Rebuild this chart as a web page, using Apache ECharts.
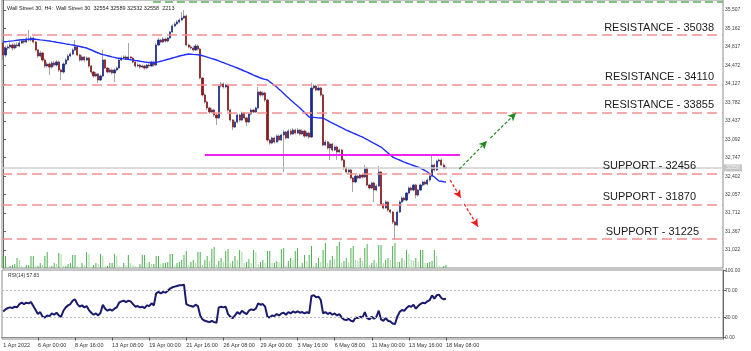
<!DOCTYPE html>
<html><head><meta charset="utf-8">
<script src="https://cdn.jsdelivr.net/npm/echarts@6/dist/echarts.min.js"></script>
<style>html,body{margin:0;padding:0;background:#fff}#c{width:751px;height:351px}</style>
</head><body><div id="c"></div>
<script>
const tickLabels = ['1 Apr 2022','6 Apr 00:00','8 Apr 16:00','13 Apr 08:00','19 Apr 00:00','21 Apr 16:00','26 Apr 08:00','29 Apr 00:00','3 May 16:00','6 May 08:00','11 May 00:00','13 May 16:00','18 May 08:00'];
const priceTicks = [31022,31367,31712,32057,32402,32747,33092,33437,33782,34127,34472,34817,35162,35507];
const rsiTicks = [0,30,70,100];

const opens = [
34890,34666,34797,34816,34853,34797,34853,34834,34890,34928,
34909,34965,34946,34984,34909,34760,34648,34704,34573,34461,
34498,34442,34517,34479,34536,34386,34349,34498,34573,34648,
34685,34760,34816,34666,34573,34629,34573,34610,34461,34349,
34274,34311,34199,34274,34573,34423,34349,34386,34330,34386,
34423,34573,34610,34629,34592,34629,34610,34536,34461,34479,
34442,34461,34423,34479,34461,34536,34479,34853,34946,34909,
34965,34928,34984,35096,35208,35246,35283,35320,35358,35395,
34853,34816,34797,34760,34834,34778,34236,33919,33788,33676,
33601,33638,33545,33489,34087,34124,34068,34105,33638,33451,
33320,33414,33545,33451,33582,33489,33414,33564,33638,33601,
33676,33975,33919,33956,33825,33078,33021,33115,33040,33152,
33078,33171,33227,33115,33246,33190,33264,33208,33264,33190,
33246,33152,33208,33134,34049,34087,34012,34049,33919,32984,
33040,32928,33003,32891,32947,32854,32891,32704,32554,32480,
32517,32368,32293,32405,32368,32424,32386,32554,32237,32181,
32274,32143,32218,32480,31881,31807,31919,31769,31732,31545,
31489,31732,31919,31994,31956,32087,32181,32143,32237,32050,
32143,32237,32293,32255,32330,32405,32610,32517,32685,32704,
32610,32554];
const closes = [
34666,34797,34816,34853,34797,34853,34834,34890,34928,34909,
34965,34946,34984,34909,34760,34648,34704,34573,34461,34498,
34442,34517,34479,34536,34386,34349,34498,34573,34648,34685,
34760,34816,34666,34573,34629,34573,34610,34461,34349,34274,
34311,34199,34274,34573,34423,34349,34386,34330,34386,34423,
34573,34610,34629,34592,34629,34610,34536,34461,34479,34442,
34461,34423,34479,34461,34536,34479,34853,34946,34909,34965,
34928,34984,35096,35208,35246,35283,35320,35358,35395,34853,
34816,34797,34760,34834,34778,34236,33919,33788,33676,33601,
33638,33545,33489,34087,34124,34068,34105,33638,33451,33320,
33414,33545,33451,33582,33489,33414,33564,33638,33601,33676,
33975,33919,33956,33825,33078,33021,33115,33040,33152,33078,
33171,33227,33115,33246,33190,33264,33208,33264,33190,33246,
33152,33208,33134,34049,34087,34012,34049,33919,32984,33040,
32928,33003,32891,32947,32854,32891,32704,32554,32480,32517,
32368,32293,32405,32368,32424,32386,32554,32237,32181,32274,
32143,32218,32480,31881,31807,31919,31769,31732,31545,31489,
31732,31919,31994,31956,32087,32181,32143,32237,32050,32143,
32237,32293,32255,32330,32405,32610,32517,32685,32704,32610,
32554,32558];
const highs = [
34946,34840,34860,34900,34880,34890,34900,34930,34960,34970,
35000,35133,35020,35010,34930,34780,34740,34720,34600,34540,
34530,34550,34560,34570,34560,34410,34530,34610,34680,34720,
34790,34946,34840,34690,34660,34650,34640,34630,34480,34370,
34350,34330,34300,34760,34590,34440,34420,34410,34420,34450,
34600,34640,34660,34660,34890,34650,34630,34550,34510,34500,
34490,34480,34500,34510,34560,34560,34890,34984,34970,35000,
34990,35010,35120,35240,35280,35320,35350,35470,35507,35420,
34880,34850,34830,34870,34860,34800,34250,33950,33810,33700,
33670,33660,33570,34110,34160,34150,34130,34130,33660,33470,
33440,33570,33570,33610,33600,33510,33590,33670,33660,33700,
34068,34000,33990,33980,33850,33100,33140,33140,33180,33180,
33200,33260,33250,33280,33280,33300,33290,33300,33280,33280,
33270,33240,33230,34143,34120,34110,34080,34070,33940,33080,
33060,33030,33020,32980,32970,32920,32910,32730,32580,32550,
32540,32390,32430,32430,32450,32450,32610,32580,32260,32300,
32300,32250,32592,32500,31900,31950,31940,31790,31750,31570,
31760,31950,32020,32020,32110,32210,32210,32260,32260,32170,
32260,32320,32320,32360,32430,32797,32640,32710,32730,32730,
32640,32589];
const lows = [
34573,34630,34760,34780,34750,34770,34800,34810,34870,34880,
34890,34920,34920,34880,34730,34610,34620,34540,34420,34430,
34292,34410,34450,34450,34350,34199,34320,34470,34550,34620,
34660,34740,34640,34540,34550,34540,34550,34430,34310,34240,
34250,34143,34180,34250,34400,34320,34330,34300,34162,34360,
34400,34550,34590,34570,34570,34580,34510,34430,34440,34410,
34420,34390,34400,34430,34440,34450,34460,34830,34880,34890,
34900,34900,34960,35080,35190,35230,35260,35300,35340,34830,
34790,34770,34730,34740,34750,34210,33890,33760,33640,33570,
33580,33510,33358,33470,34060,34040,34040,33610,33420,33264,
33300,33390,33420,33430,33460,33340,33390,33540,33580,33580,
33650,33890,33890,33790,33050,32990,33000,33010,33020,33050,
33060,32480,33090,33100,33160,33170,33180,33190,33160,33170,
33120,33130,33100,33110,34020,33990,33990,33890,32960,32960,
32900,32704,32860,32870,32704,32830,32680,32520,32450,32460,
32340,32106,32270,32340,32350,32360,32370,32210,32150,32160,
31919,32120,32200,31860,31780,31790,31740,31700,31510,31209,
31470,31710,31900,31930,31930,32060,32120,32120,31990,32020,
32120,32210,32230,32230,32300,32380,32490,32500,32660,32590,
32530,32532];
const maValues = [
34909,34915,34920,34926,34930,34935,34941,34946,34950,34952,
34956,34960,34961,34965,34960,34954,34948,34945,34939,34933,
34928,34920,34913,34905,34898,34890,34883,34875,34868,34860,
34853,34844,34834,34825,34816,34806,34797,34778,34760,34741,
34722,34704,34685,34674,34664,34653,34642,34631,34621,34610,
34605,34599,34593,34590,34584,34578,34573,34565,34558,34550,
34543,34536,34530,34526,34520,34517,34528,34539,34550,34561,
34573,34586,34597,34610,34623,34634,34648,34657,34666,34676,
34685,34681,34677,34674,34670,34666,34653,34640,34627,34612,
34599,34586,34573,34556,34539,34522,34505,34491,34474,34457,
34440,34423,34405,34386,34367,34349,34330,34311,34292,34274,
34255,34236,34223,34212,34199,34165,34134,34100,34068,34027,
33988,33947,33906,33866,33825,33788,33750,33713,33676,33633,
33592,33549,33508,33504,33500,33496,33492,33490,33489,33465,
33442,33418,33395,33373,33352,33330,33308,33287,33264,33246,
33227,33208,33190,33171,33152,33134,33109,33087,33063,33040,
33016,32993,32969,32947,32909,32872,32835,32797,32760,32741,
32722,32704,32685,32666,32648,32633,32616,32601,32586,32569,
32554,32530,32504,32480,32448,32418,32386,32349,32311,32306,
32298,32293];
const volumes = [
8400,8400,700,1400,2100,2800, 7000,5600,1400,700,2100,2100,
8400,8400,1400,1400,3500,2100, 8400,11200,1400,1400,3500,2800,
10500,9800,1400,1400,2800,3500, 9100,9100,1400,700,3500,2100,
11200,9800,700,2100,3500,2800, 9800,8400,1400,1400,3500,3500,
9800,8400,1400,700,3500,2100, 9100,3500,2100,1400,700,2800,
9100,9100,3500,4200,2800,2800, 8400,8400,2800,3500,3500,4200,
9800,9800,1400,3500,4200,5600, 9100,11900,2100,4200,5600,3500,
11200,11200,2100,5600,8400,4900, 13300,14700,2100,4900,7000,4200,
11900,13300,3500,4900,8400,5600, 12600,11200,3500,4200,6300,3500,
12600,11200,2800,4200,5600,3500, 11900,11900,3500,3500,4900,4200,
13300,14000,1400,4900,7000,5600, 11900,14000,1400,3500,9100,4900,
9100,15400,1400,3500,7000,4200, 12600,17500,3500,5600,8400,6300,
15400,18200,3500,4900,7000,4200, 14000,15400,5600,4900,7000,4900,
14000,16800,2100,3500,5600,3500, 16100,16100,3500,5600,7000,5600,
15400,17500,4200,4200,7000,5600, 12600,9800,5600,4900,7000,4200,
12600,12600,3500,3500,4200,4900, 12600,8400,1400,700,1400,2213];
const rsiValues = [
39,42,44,45,44,46,45,50,52,50,
52,51,53,47,41,35,38,31,30,33,
32,36,34,37,33,31,40,45,48,50,
55,57,50,46,48,45,47,41,37,34,
36,33,37,49,43,40,42,40,43,45,
52,54,55,53,55,54,50,46,47,45,
46,44,48,47,51,48,66,68,66,68,
67,70,73,75,76,77,78,78,79,50,
48,47,46,49,47,33,27,25,24,23,
25,23,22,45,46,45,46,35,31,29,
33,38,35,40,37,35,40,42,41,43,
51,49,50,46,31,30,33,32,35,33,
36,37,34,38,36,39,37,39,37,38,
36,38,36,62,63,60,61,56,36,38,
35,37,34,36,33,35,30,27,26,28,
25,24,30,29,31,30,38,29,27,31,
28,31,40,27,25,29,25,24,21,20,
31,38,41,40,44,47,46,49,43,47,
50,52,51,54,56,63,58,63,64,59,
57,57.83];

const levelValues = [35038, 34110, 33590, 32456, 31870, 31225];
const levelLabels = ['RESISTANCE - 35038','RESISTANCE - 34110','RESISTANCE - 33855','SUPPORT - 32456','SUPPORT - 31870','SUPPORT - 31225'];
const levelLabelGap = [9, 9, 9, 27, 27, 24];
const currentPrice = 32556;
const titleText = 'Wall Street 30, H4:  Wall Street 30  32554 32589 32532 32558  2213';
const rsiText = 'RSI(14) 57.83';
// annotation lines in [bar index, price]
const trendLine = [[-1.4, 33582], [123.3, 34965]];
const magentaLine = [[87, 32797], [197, 32797]];
const greenTopLine = [[64.6, 35666], [310.5, 35666]];
const greenArrows = [[[196.8, 32536], [208.7, 33059]], [[210.2, 33115], [221.2, 33582]]];
const redArrows = [[[192.8, 32330], [197.4, 31994]], [[198.9, 31881], [204.8, 31457]]];

const N = 311;
const categories = Array.from({length: N}, (_, i) => String(i));
const showIdx = (i) => i === 0 || ((i + 1) % 16 === 0 && (i + 1) / 16 < tickLabels.length);

const full = opens.map((o, i) => [o, closes[i], lows[i], highs[i]]);
const bodies = opens.map((o, i) => [o, closes[i], Math.min(o, closes[i]), Math.max(o, closes[i])]);

const chart = echarts.init(document.getElementById('c'), null, {renderer: 'canvas'});
const FF = 'Liberation Sans, Arial, sans-serif';
chart.setOption({
  animation: false,
  backgroundColor: '#ffffff',
  title: [
    {text: titleText, left: 2, top: 0, textStyle: {fontSize: 5.5, fontWeight: 'normal', color: '#222', fontFamily: FF}},
    {text: rsiText, left: 3, top: 268, textStyle: {fontSize: 5, fontWeight: 'normal', color: '#333', fontFamily: FF}}
  ],
  grid: [
    {left: 2, right: 28, top: 0, height: 268, show: true, borderColor: '#8c8c8c', borderWidth: 1, backgroundColor: 'transparent'},
    {left: 2, right: 28, top: 270, height: 69, show: true, borderColor: '#8c8c8c', borderWidth: 1, backgroundColor: 'transparent'}
  ],
  xAxis: [
    {type: 'category', gridIndex: 0, data: categories, boundaryGap: true, axisLine: {show: false}, axisTick: {show: false}, axisLabel: {show: false}, splitLine: {show: false}},
    {type: 'value', gridIndex: 0, min: -0.5, max: N - 0.5, show: false},
    {type: 'category', gridIndex: 1, data: categories, boundaryGap: true,
      axisLine: {show: true, lineStyle: {color: '#8c8c8c'}},
      axisTick: {show: true, alignWithLabel: true, interval: (i) => showIdx(i) && i > 0, length: 3, lineStyle: {color: '#555'}},
      axisLabel: {interval: (i) => showIdx(i), align: 'left', margin: 3, fontSize: 5.5, color: '#333', fontFamily: FF,
        formatter: (v, i) => i === 0 ? tickLabels[0] : tickLabels[(i + 1) / 16]},
      splitLine: {show: false}}
  ],
  yAxis: [
    {type: 'value', gridIndex: 0, position: 'right', min: 30686, max: 35694, splitLine: {show: false},
      axisLine: {show: true, lineStyle: {color: '#666'}},
      axisTick: {show: true, customValues: priceTicks, length: 3, lineStyle: {color: '#666'}},
      axisLabel: {customValues: priceTicks, fontSize: 5, color: '#444', margin: 2, fontFamily: FF}},
    {type: 'value', gridIndex: 0, min: 0, max: 187600, show: false},
    {type: 'value', gridIndex: 1, position: 'right', min: -2.2, max: 100.8, splitLine: {show: false},
      axisLine: {show: true, lineStyle: {color: '#666'}},
      axisTick: {show: true, customValues: rsiTicks, length: 3, lineStyle: {color: '#666'}},
      axisLabel: {customValues: rsiTicks, fontSize: 5, color: '#444', margin: 2, fontFamily: FF, formatter: (v) => v.toFixed(2)}}
  ],
  series: [
    {type: 'bar', name: 'volume', xAxisIndex: 0, yAxisIndex: 1, data: volumes, barWidth: 1,
      itemStyle: {color: (p) => (p.dataIndex > 0 && volumes[p.dataIndex] < volumes[p.dataIndex - 1]) ? '#a8d8a8' : '#4caf50'}},
    {type: 'candlestick', name: 'wicks', xAxisIndex: 0, yAxisIndex: 0, data: full, barWidth: '72%',
      itemStyle: {color: '#a6a6a6', color0: '#a6a6a6', borderColor: '#a6a6a6', borderColor0: '#a6a6a6', borderWidth: 1},
      markLine: {silent: true, symbol: ['none', 'none'],
        data: levelValues.map((v, i) => ({yAxis: v, label: {formatter: levelLabels[i], distance: [levelLabelGap[i], 2]}})).concat([
          {yAxis: currentPrice, lineStyle: {color: '#cfcfcf', type: 'solid', width: 1.5},
            label: {position: 'end', formatter: String(currentPrice), fontSize: 5, color: '#f4f4f4', backgroundColor: '#c4c4c4', padding: [1, 2], distance: 1, fontFamily: FF}}
        ]),
        lineStyle: {color: '#f58e8e', type: [10, 5], width: 1.6},
        label: {show: true, position: 'insideEndTop', distance: [9, 2], fontSize: 11, color: '#1a1a1a', fontFamily: FF}}},
    {type: 'candlestick', name: 'bodies', xAxisIndex: 0, yAxisIndex: 0, data: bodies, barWidth: '72%',
      itemStyle: {color: '#1c2a8c', color0: '#8b1a1a', borderColor: '#1c2a8c', borderColor0: '#8b1a1a', borderWidth: 0.6}},
    {type: 'line', name: 'ma', xAxisIndex: 0, yAxisIndex: 0, data: maValues, symbol: 'none', lineStyle: {color: '#1f2fff', width: 1.4}},
    {type: 'line', name: 'annot', xAxisIndex: 1, yAxisIndex: 0, data: [], symbol: 'none',
      markLine: {silent: true, symbol: ['none', 'none'], label: {show: false},
        data: [
          [{coord: trendLine[0], lineStyle: {color: '#ea8c8c', type: [4, 3], width: 1}}, {coord: trendLine[1]}],
          [{coord: magentaLine[0], lineStyle: {color: '#f020f0', type: 'solid', width: 2}}, {coord: magentaLine[1]}],
          [{coord: greenTopLine[0], lineStyle: {color: '#55b055', type: [8, 4], width: 1.5}}, {coord: greenTopLine[1]}]
        ].concat(greenArrows.map((a) => [{coord: a[0], symbol: 'none', lineStyle: {color: '#1a8a1a', type: [3, 2], width: 1.2}}, {coord: a[1], symbol: 'arrow', symbolSize: [6, 8]}]))
         .concat(redArrows.map((a) => [{coord: a[0], symbol: 'none', lineStyle: {color: '#f01818', type: [3, 2], width: 1.2}}, {coord: a[1], symbol: 'arrow', symbolSize: [6, 8]}]))
      }},
    {type: 'line', name: 'rsi', xAxisIndex: 2, yAxisIndex: 2, data: rsiValues, symbol: 'none', lineStyle: {color: '#1a1a6e', width: 2},
      markLine: {silent: true, symbol: ['none', 'none'], label: {show: false},
        lineStyle: {color: '#bdbdbd', type: [2, 2], width: 1},
        data: [{yAxis: 30}, {yAxis: 70}]}}
  ]
});
</script></body></html>
